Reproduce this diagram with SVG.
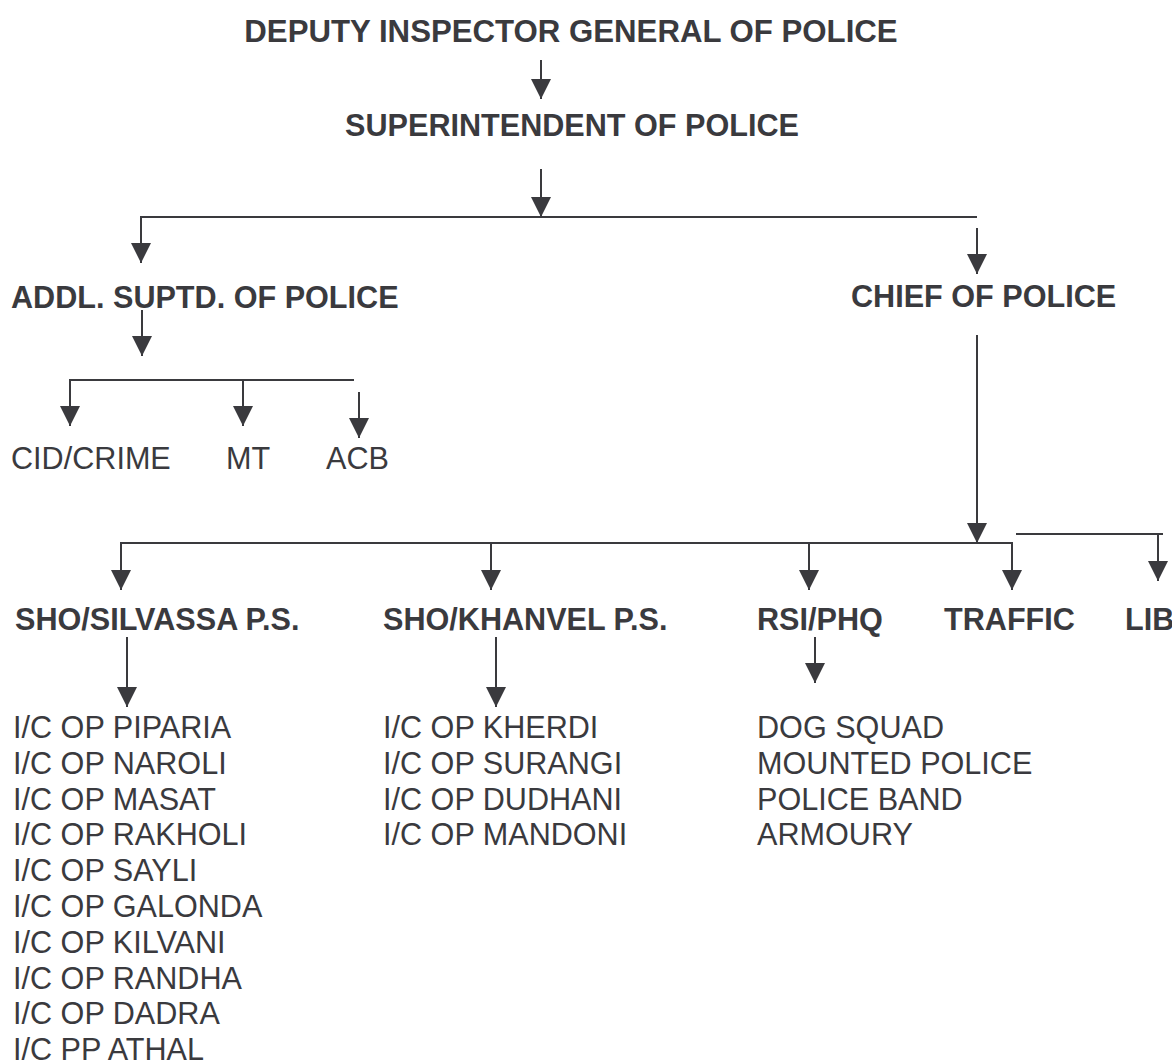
<svg xmlns="http://www.w3.org/2000/svg" width="1172" height="1061" viewBox="0 0 1172 1061">
<style>
text{font-family:"Liberation Sans",Arial,sans-serif;font-size:30.6px;fill:#3a3a3e}
.b{font-weight:bold}
.c{text-anchor:middle}
.t{font-size:31.2px}
.ln{stroke:#3a3a3e;stroke-width:2;fill:none}
</style>
<defs>
<marker id="ah" viewBox="0 0 20 20" refX="20" refY="10" markerWidth="20" markerHeight="20" markerUnits="userSpaceOnUse" orient="auto">
<path d="M0,0 L20,10 L0,20 z" fill="#3a3a3e"/>
</marker>
</defs>
<rect width="1172" height="1061" fill="#fff"/>
<g id="connectors">
<line class="ln" x1="541" y1="60" x2="541" y2="99" marker-end="url(#ah)"/>
<line class="ln" x1="541" y1="169" x2="541" y2="217" marker-end="url(#ah)"/>
<polyline class="ln" points="977,217 141,217 141,263" marker-end="url(#ah)"/>
<line class="ln" x1="977" y1="228" x2="977" y2="274" marker-end="url(#ah)"/>
<line class="ln" x1="142" y1="310" x2="142" y2="356" marker-end="url(#ah)"/>
<polyline class="ln" points="354,380 70,380 70,426" marker-end="url(#ah)"/>
<line class="ln" x1="243" y1="380" x2="243" y2="426" marker-end="url(#ah)"/>
<line class="ln" x1="359" y1="392" x2="359" y2="438" marker-end="url(#ah)"/>
<line class="ln" x1="977" y1="335" x2="977" y2="543" marker-end="url(#ah)"/>
<polyline class="ln" points="1012,590 1012,543 121,543 121,590" marker-end="url(#ah)"/>
<line class="ln" x1="491" y1="543" x2="491" y2="590" marker-end="url(#ah)"/>
<line class="ln" x1="809" y1="543" x2="809" y2="590" marker-end="url(#ah)"/>
<line class="ln" x1="1012" y1="543" x2="1012" y2="590" marker-end="url(#ah)"/>
<polyline class="ln" points="1016,534 1163,534"/>
<line class="ln" x1="1158" y1="534" x2="1158" y2="581" marker-end="url(#ah)"/>
<line class="ln" x1="127" y1="637" x2="127" y2="707" marker-end="url(#ah)"/>
<line class="ln" x1="496" y1="637" x2="496" y2="707" marker-end="url(#ah)"/>
<line class="ln" x1="815" y1="637" x2="815" y2="683" marker-end="url(#ah)"/>
</g>
<g id="dig"><text class="b c t" x="571" y="42">DEPUTY INSPECTOR GENERAL OF POLICE</text></g>
<g id="sp"><text class="b c" x="572" y="136">SUPERINTENDENT OF POLICE</text></g>
<g id="addl"><text class="b" x="11" y="308">ADDL. SUPTD. OF POLICE</text></g>
<g id="chief"><text class="b" x="851" y="307">CHIEF OF POLICE</text></g>
<g id="cid"><text x="11" y="469">CID/CRIME</text></g>
<g id="mt"><text x="226" y="469">MT</text></g>
<g id="acb"><text x="326" y="469">ACB</text></g>
<g id="silvassa"><text class="b" x="15" y="630">SHO/SILVASSA P.S.</text></g>
<g id="khanvel"><text class="b" x="383" y="630">SHO/KHANVEL P.S.</text></g>
<g id="rsi"><text class="b" x="757" y="630">RSI/PHQ</text></g>
<g id="traffic"><text class="b" x="944" y="630">TRAFFIC</text></g>
<g id="lib"><text class="b" x="1125" y="630">LIB</text></g>
<g id="silvassa-list">
<text x="13" y="738">I/C OP PIPARIA</text>
<text x="13" y="773.8">I/C OP NAROLI</text>
<text x="13" y="809.6">I/C OP MASAT</text>
<text x="13" y="845.4">I/C OP RAKHOLI</text>
<text x="13" y="881.2">I/C OP SAYLI</text>
<text x="13" y="917">I/C OP GALONDA</text>
<text x="13" y="952.8">I/C OP KILVANI</text>
<text x="13" y="988.6">I/C OP RANDHA</text>
<text x="13" y="1024.4">I/C OP DADRA</text>
<text x="13" y="1059.5">I/C PP ATHAL</text>
</g>
<g id="khanvel-list">
<text x="383" y="738">I/C OP KHERDI</text>
<text x="383" y="773.8">I/C OP SURANGI</text>
<text x="383" y="809.6">I/C OP DUDHANI</text>
<text x="383" y="845.4">I/C OP MANDONI</text>
</g>
<g id="rsi-list">
<text x="757" y="738">DOG SQUAD</text>
<text x="757" y="773.8">MOUNTED POLICE</text>
<text x="757" y="809.6">POLICE BAND</text>
<text x="757" y="845.4">ARMOURY</text>
</g>
</svg>
